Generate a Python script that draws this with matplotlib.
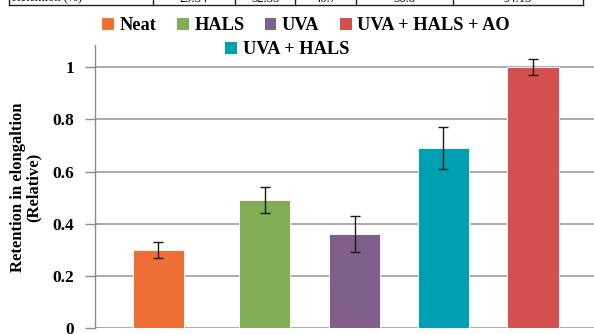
import numpy as np
import matplotlib
matplotlib.use('Agg')
import matplotlib.pyplot as plt
from matplotlib.lines import Line2D
from matplotlib.patches import Patch

# Relative retention in elongation for each formulation
samples = ['Neat', 'HALS', 'UVA', 'UVA + HALS', 'UVA + HALS + AO']
retention = [0.30, 0.49, 0.36, 0.69, 1.00]
retention_err = [0.03, 0.05, 0.07, 0.08, 0.03]
colors = ['#ED6F35', '#80AD55', '#815F8B', '#009FB2', '#D44F4F']

# Table row above the chart (mostly cut off)
table_cells = ['Retention (%)', '29.54', '52.35', '40.7', '56.8', '94.13']

# Bar slots along x (first gap is a bit wider)
slots = [0.0, 1.19, 2.19, 3.18, 4.18]

plt.rcParams['font.family'] = ['Liberation Serif', 'DejaVu Serif']
plt.rcParams['font.weight'] = 'bold'

fig = plt.figure(figsize=(5.94, 3.34), dpi=100)
ax = fig.add_axes([95 / 594, 6 / 334, 499 / 594, 283 / 334])

ax.bar(slots, retention, width=0.57, color=colors, edgecolor='white', linewidth=0.6, zorder=3)
ax.errorbar(slots, retention, yerr=retention_err, fmt='none', ecolor='#1a1a1a',
            elinewidth=1.0, capsize=3.5, capthick=1.0, zorder=4)

ax.set_xlim(-0.705, 4.86)
ax.set_ylim(0, 1.085)
ax.set_yticks(np.arange(0, 1.01, 0.2))
ax.set_yticklabels(['0', '0.2', '0.4', '0.6', '0.8', '1'])
ax.set_xticks([])
ax.yaxis.grid(True, color='#A8A49E', linewidth=1.3, zorder=0)
ax.tick_params(axis='y', length=7, width=1.0, color='#8c8c8c', labelsize=12.5, pad=8)
for side in ['top', 'right', 'bottom']:
    ax.spines[side].set_visible(False)
ax.spines['left'].set_color('#8c8c8c')
ax.spines['left'].set_linewidth(1.0)

# y-axis title, two lines
fig.text(26 / 594, 1 - 187 / 334, 'Retention in elongaltion\n(Relative)', rotation=90,
         ha='center', va='center', fontsize=12, fontweight='bold', linespacing=1.0,
         multialignment='center')

# Legend: first four entries on one row, the remaining one centred below
order = [0, 1, 2, 4, 3]
handles = [Patch(facecolor=colors[i], edgecolor='none') for i in order]
labels = [samples[i] for i in order]
leg_kw = dict(frameon=False, fontsize=13.2, handlelength=0.65, handleheight=0.65,
              handletextpad=0.3, columnspacing=1.1, borderaxespad=0, borderpad=0)
fig.legend(handles[:4], labels[:4], ncol=4, loc='center', bbox_to_anchor=(306 / 594, 1 - 26 / 334), **leg_kw)
fig.legend(handles[4:], labels[4:], ncol=1, loc='center', bbox_to_anchor=(287 / 594, 1 - 50 / 334), **leg_kw)

# Table border and cell text at the top edge
fig.add_artist(Line2D([9 / 594, 583 / 594], [1 - 4.5 / 334] * 2, color='#222222', linewidth=1.0))
cell_edges = [9, 153, 235, 295, 356, 453, 583]
for xe in cell_edges:
    fig.add_artist(Line2D([xe / 594] * 2, [1 - 4.5 / 334, 1.0], color='#222222', linewidth=1.0))
fig.text(12 / 594, 1 - 1.5 / 334, table_cells[0], fontsize=9, fontweight='normal', va='baseline', ha='left')
for k, txt in enumerate(table_cells[1:], start=1):
    xc = (cell_edges[k] + cell_edges[k + 1]) / 2 / 594
    fig.text(xc, 1 - 1.5 / 334, txt, fontsize=9, fontweight='normal', va='baseline', ha='center')

fig.savefig('out.png', dpi=100)
